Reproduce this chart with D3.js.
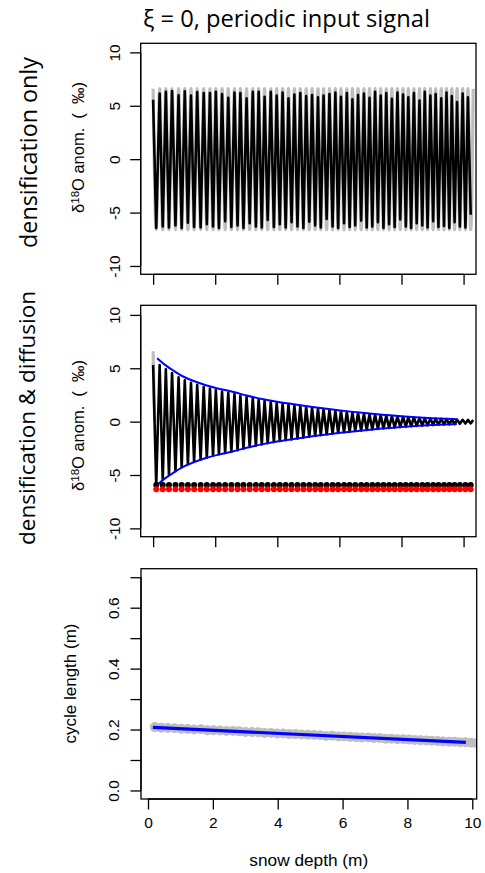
<!DOCTYPE html>
<html><head><meta charset="utf-8">
<script src="https://cdn.jsdelivr.net/npm/d3@7"></script>
<style>
body{margin:0;background:#fff}
svg{display:block}
text{white-space:pre}
</style>
</head><body>
<script>
// ---------- data ----------
const xTicks = [0, 2, 4, 6, 8, 10];
const xTickLabels = ["0", "2", "4", "6", "8", "10"];
const anomTicks = [-10, -5, 0, 5, 10];
const anomTickLabels = ["-10", "-5", "0", "5", "10"];
const cycleTicks = [0, 0.1, 0.2, 0.3, 0.4, 0.5, 0.6, 0.7];
const cycleTickLabels = ["0.0", "", "0.2", "", "0.4", "", "0.6", ""];

// depths (m) of the signal maxima and minima
const peakDepth = [0, 0.21, 0.41, 0.61, 0.82, 1.02, 1.22, 1.42, 1.63, 1.83, 2.02, 2.22, 2.42, 2.62, 2.81, 3.01, 3.21, 3.40, 3.59, 3.79, 3.98, 4.17, 4.36, 4.55, 4.74, 4.93, 5.12, 5.31, 5.49, 5.68, 5.87, 6.05, 6.24, 6.42, 6.60, 6.79, 6.97, 7.15, 7.33, 7.51, 7.69, 7.87, 8.05, 8.22, 8.40, 8.58, 8.75, 8.93, 9.10, 9.28, 9.45, 9.62, 9.79, 9.97, 10.14, 10.31];
const troughDepth = [0.10, 0.31, 0.51, 0.72, 0.92, 1.12, 1.32, 1.53, 1.73, 1.93, 2.12, 2.32, 2.52, 2.72, 2.91, 3.11, 3.31, 3.50, 3.69, 3.89, 4.08, 4.27, 4.46, 4.65, 4.84, 5.03, 5.22, 5.40, 5.59, 5.78, 5.96, 6.15, 6.33, 6.51, 6.70, 6.88, 7.06, 7.24, 7.42, 7.60, 7.78, 7.96, 8.14, 8.31, 8.49, 8.67, 8.84, 9.02, 9.19, 9.37, 9.54, 9.71, 9.88, 10.06, 10.23];

// input signal amplitude (permil)
const inputAmplitude = 6.6;

// densification only: sampled maxima / minima
const densPeak = [5.56, 6.15, 6.32, 6.38, 5.98, 6.35, 5.95, 6.28, 6.2, 6.18, 6.3, 6.1, 5.75, 6.25, 6.2, 5.7, 6.3, 6.32, 5.85, 6.3, 5.95, 6.25, 5.7, 6.05, 6.2, 5.9, 6.0, 5.8, 5.95, 6.1, 6.25, 5.85, 6.2, 5.6, 6.0, 6.15, 5.75, 6.3, 5.95, 6.2, 5.65, 6.25, 6.05, 5.8, 6.2, 5.5, 6.3, 5.95, 6.1, 5.7, 6.25, 5.9, 5.35, 6.15, 5.8];
const densTrough = [-6.45, -6.3, -6.4, -6.2, -6.45, -5.95, -6.35, -6.4, -6.1, -6.3, -6.45, -5.8, -6.35, -6.2, -6.45, -6.0, -6.3, -6.4, -5.7, -6.35, -6.1, -6.4, -5.9, -6.3, -6.45, -5.85, -6.2, -6.4, -5.6, -6.3, -6.45, -6.0, -6.35, -6.2, -5.75, -6.4, -6.3, -5.9, -6.45, -6.1, -6.35, -5.65, -6.3, -6.45, -6.0, -6.2, -6.4, -5.8, -6.35, -6.25, -6.45, -5.9, -6.3, -6.4, -5.2];

// densification & diffusion: maxima / minima
const diffPeak = [5.3, 5.3, 4.9, 4.55, 4.15, 3.88, 3.65, 3.45, 3.25, 3.1, 2.95, 2.83, 2.7, 2.6, 2.45, 2.3, 2.18, 2.06, 1.95, 1.85, 1.76, 1.68, 1.6, 1.54, 1.46, 1.38, 1.3, 1.23, 1.16, 1.1, 1.04, 0.97, 0.91, 0.86, 0.81, 0.75, 0.7, 0.66, 0.62, 0.58, 0.53, 0.49, 0.46, 0.42, 0.39, 0.35, 0.33, 0.3, 0.28, 0.26, 0.24, 0.21, 0.19, 0.17, 0.16, 0.15];
const diffTrough = [-5.93, -5.45, -5.0, -4.65, -4.28, -3.98, -3.75, -3.55, -3.37, -3.2, -3.05, -2.93, -2.82, -2.68, -2.52, -2.37, -2.25, -2.13, -2.01, -1.91, -1.82, -1.74, -1.66, -1.59, -1.5, -1.42, -1.34, -1.27, -1.2, -1.13, -1.07, -1.0, -0.94, -0.88, -0.83, -0.78, -0.73, -0.69, -0.64, -0.6, -0.55, -0.51, -0.47, -0.43, -0.4, -0.37, -0.35, -0.32, -0.29, -0.27, -0.25, -0.23, -0.2, -0.18, -0.16];
const diffInputDepth = [0, 0.05];
const diffInputValue = [6.6, 0];

// theoretical amplitude envelope
const envDepth = [0.13, 0.4, 0.7, 0.95, 1.3, 1.7, 2.1, 2.56, 3.0, 3.5, 4.0, 4.71, 5.3, 6.0, 6.86, 7.5, 8.2, 9.0, 9.78];
const envUpper = [5.94, 5.25, 4.7, 4.22, 3.8, 3.4, 3.08, 2.81, 2.45, 2.12, 1.85, 1.56, 1.3, 1.05, 0.78, 0.62, 0.45, 0.32, 0.22];
const envLower = [-5.93, -5.25, -4.7, -4.22, -3.8, -3.4, -3.08, -2.81, -2.45, -2.12, -1.85, -1.56, -1.3, -1.05, -0.78, -0.62, -0.45, -0.32, -0.22];

// minima markers
const minMarkerDiff = -5.93;
const minMarkerInput = -6.34;

// cycle length vs depth
const cycleDepth = [0.21, 0.41, 0.61, 0.82, 1.02, 1.22, 1.42, 1.63, 1.83, 2.02, 2.22, 2.42, 2.62, 2.81, 3.01, 3.21, 3.40, 3.59, 3.79, 3.98, 4.17, 4.36, 4.55, 4.74, 4.93, 5.12, 5.31, 5.49, 5.68, 5.87, 6.05, 6.24, 6.42, 6.60, 6.79, 6.97, 7.15, 7.33, 7.51, 7.69, 7.87, 8.05, 8.22, 8.40, 8.58, 8.75, 8.93, 9.10, 9.28, 9.45, 9.62, 9.79, 9.97, 10.14];
const cycleLength = [0.208, 0.206, 0.205, 0.204, 0.203, 0.202, 0.200, 0.201, 0.198, 0.198, 0.197, 0.195, 0.195, 0.194, 0.192, 0.192, 0.191, 0.189, 0.189, 0.187, 0.187, 0.185, 0.185, 0.184, 0.183, 0.182, 0.181, 0.179, 0.180, 0.177, 0.177, 0.176, 0.175, 0.174, 0.174, 0.172, 0.172, 0.170, 0.170, 0.168, 0.168, 0.167, 0.166, 0.165, 0.164, 0.163, 0.162, 0.161, 0.160, 0.160, 0.158, 0.158, 0.157, 0.155];
const fitDepth = [0.15, 9.8];
const fitLength = [0.207, 0.158];

// ---------- layout ----------
const W = 485, H = 873;
const P1 = {l: 140.7, r: 476, t: 43.3, b: 274.3};
const P2 = {l: 140.7, r: 476, t: 305.3, b: 536.7};
const P3 = {l: 141, r: 476.7, t: 568.7, b: 799};
const TICK = 10.5;
const sansR = "'Liberation Sans', Arial, sans-serif";
const sansH = "'Open Sans', 'Noto Sans', sans-serif";

const svg = d3.select("body").append("svg").attr("width", W).attr("height", H);

const x12 = d3.scaleLinear().domain([-0.4, 10.4]).range([P1.l, P1.r]);
const y1 = d3.scaleLinear().domain([-10.78, 10.85]).range([P1.b, P1.t]);
const y2 = d3.scaleLinear().domain([-10.78, 10.9]).range([P2.b, P2.t]);
const x3 = d3.scaleLinear().domain([-0.216, 10.136]).range([P3.l, P3.r]);
const y3 = d3.scaleLinear().domain([-0.028, 0.728]).range([P3.b, P3.t]);

function clip(id, p) {
  svg.append("clipPath").attr("id", id).append("rect")
    .attr("x", p.l).attr("y", p.t).attr("width", p.r - p.l).attr("height", p.b - p.t);
}
clip("c1", P1); clip("c2", P2); clip("c3", P3);

// alternate maxima and minima into one ordered list of points
function zig(peaksX, peaksY, troX, troY, nPeaks, nTro) {
  const pts = [];
  for (let i = 0; i < Math.max(nPeaks, nTro); i++) {
    if (i < nPeaks) pts.push([peaksX[i], peaksY[i]]);
    if (i < nTro) pts.push([troX[i], troY[i]]);
  }
  return pts;
}

// ----- panel 1: densification only -----
const g1 = svg.append("g").attr("clip-path", "url(#c1)");
const inputPts = zig(peakDepth, peakDepth.map(() => inputAmplitude), troughDepth, troughDepth.map(() => -inputAmplitude), peakDepth.length, troughDepth.length);
g1.append("path")
  .attr("d", d3.line().x(d => x12(d[0])).y(d => y1(d[1])).curve(d3.curveMonotoneX)(inputPts))
  .attr("fill", "none").attr("stroke", "#bebebe").attr("stroke-width", 3.2).attr("stroke-linejoin", "round");
const densPts = zig(peakDepth, densPeak, troughDepth, densTrough, densPeak.length, densTrough.length);
g1.append("path")
  .attr("d", d3.line().x(d => x12(d[0])).y(d => y1(d[1]))(densPts))
  .attr("fill", "none").attr("stroke", "#000").attr("stroke-width", 2.6).attr("stroke-linejoin", "round");

// ----- panel 2: densification & diffusion -----
const g2 = svg.append("g").attr("clip-path", "url(#c2)");
g2.append("path")
  .attr("d", d3.line().x(d => x12(d[0])).y(d => y2(d[1]))(diffInputDepth.map((d, i) => [d, diffInputValue[i]])))
  .attr("fill", "none").attr("stroke", "#bebebe").attr("stroke-width", 3.2);
const diffPts = zig(peakDepth, diffPeak, troughDepth, diffTrough, diffPeak.length, diffTrough.length);
g2.append("path")
  .attr("d", d3.line().x(d => x12(d[0])).y(d => y2(d[1]))(diffPts))
  .attr("fill", "none").attr("stroke", "#000").attr("stroke-width", 2.6).attr("stroke-linejoin", "round");
const envLine = d3.line().x(d => x12(d[0])).y(d => y2(d[1])).curve(d3.curveBasis);
[envUpper, envLower].forEach(arr => {
  g2.append("path").attr("d", envLine(envDepth.map((d, i) => [d, arr[i]])))
    .attr("fill", "none").attr("stroke", "#0000ff").attr("stroke-width", 2);
});
g2.selectAll("circle.mk").data(troughDepth).join("circle").attr("class", "mk")
  .attr("cx", d => x12(d)).attr("cy", y2(minMarkerDiff)).attr("r", 3).attr("fill", "#000");
g2.selectAll("circle.mr").data(troughDepth).join("circle").attr("class", "mr")
  .attr("cx", d => x12(d)).attr("cy", y2(minMarkerInput)).attr("r", 3).attr("fill", "#ff0000");

// ----- panel 3: cycle length -----
const g3 = svg.append("g").attr("clip-path", "url(#c3)");
g3.selectAll("circle").data(cycleDepth).join("circle")
  .attr("cx", d => x3(d)).attr("cy", (d, i) => y3(cycleLength[i])).attr("r", 5)
  .attr("fill", "#bebebe");
g3.append("path")
  .attr("d", d3.line().x(d => x3(d[0])).y(d => y3(d[1]))(fitDepth.map((d, i) => [d, fitLength[i]])))
  .attr("stroke", "#0000ff").attr("stroke-width", 3.2).attr("fill", "none");

// ----- frames and axes -----
[P1, P2, P3].forEach(p => {
  svg.append("rect").attr("x", p.l).attr("y", p.t).attr("width", p.r - p.l).attr("height", p.b - p.t)
    .attr("fill", "none").attr("stroke", "#000").attr("stroke-width", 1.3);
});

function yAxis(scale, p, ticks, labels, off) {
  const ax = d3.axisLeft(scale).tickValues(ticks).tickSize(TICK).tickSizeOuter(0)
    .tickFormat((d, i) => labels[i]);
  const g = svg.append("g").attr("transform", `translate(${p.l},0)`).call(ax);
  g.select(".domain").attr("d", `M0,${scale(ticks[0])}V${scale(ticks[ticks.length - 1])}`)
    .attr("stroke-width", 1.3);
  g.selectAll(".tick line").attr("stroke-width", 1.3);
  g.selectAll(".tick text").attr("transform", "rotate(-90)").attr("x", 0).attr("y", -off)
    .attr("dy", 0).attr("text-anchor", "middle")
    .attr("font-family", sansR).attr("font-size", 15.5).attr("fill", "#000");
  return g;
}
function xAxis(scale, p, labels) {
  const ax = d3.axisBottom(scale).tickValues(xTicks).tickSize(TICK).tickSizeOuter(0)
    .tickFormat((d, i) => labels ? labels[i] : "");
  const g = svg.append("g").attr("transform", `translate(0,${p.b})`).call(ax);
  g.select(".domain").attr("d", `M${scale(xTicks[0])},0H${scale(xTicks[xTicks.length - 1])}`)
    .attr("stroke-width", 1.3);
  g.selectAll(".tick line").attr("stroke-width", 1.3);
  g.selectAll(".tick text").attr("y", 29).attr("dy", 0)
    .attr("font-family", sansR).attr("font-size", 15.5).attr("fill", "#000");
  return g;
}
yAxis(y1, P1, anomTicks, anomTickLabels, 20.5);
yAxis(y2, P2, anomTicks, anomTickLabels, 20.5);
yAxis(y3, P3, cycleTicks, cycleTickLabels, 22.5);
xAxis(x12, P1, null);
xAxis(x12, P2, null);
xAxis(x3, P3, xTickLabels);

// ----- text -----
function fit(sel, target) {
  const s0 = +sel.attr("font-size");
  const L = sel.node().getComputedTextLength();
  if (L > 0) sel.attr("font-size", s0 * target / L);
  return sel;
}
function vtext(x, y) {
  return svg.append("text").attr("transform", `translate(${x},${y}) rotate(-90)`)
    .attr("text-anchor", "middle").attr("fill", "#000");
}

fit(svg.append("text").attr("x", 286.5).attr("y", 27).attr("text-anchor", "middle")
  .attr("font-family", sansH).attr("font-size", 22).text("ξ = 0, periodic input signal"), 287);

fit(vtext(36.5, 152.5).attr("font-family", sansH).attr("font-size", 22).text("densification only"), 191);
fit(vtext(35, 418).attr("font-family", sansH).attr("font-size", 22).text("densification & diffusion"), 254);

function deltaLabel(x, y) {
  const t = vtext(x, y).attr("font-family", sansR).attr("font-size", 15);
  t.append("tspan").text("δ");
  t.append("tspan").attr("font-size", "0.7em").attr("dy", "-0.45em").text("18");
  t.append("tspan").attr("dy", "0.315em").text("O anom.  (  ‰)");
  fit(t, 131);
}
deltaLabel(84, 147.5);
deltaLabel(84, 425.5);

fit(vtext(76, 683.5).attr("font-family", sansR).attr("font-size", 15).text("cycle length (m)"), 120);
fit(svg.append("text").attr("x", 308.8).attr("y", 866).attr("text-anchor", "middle")
  .attr("font-family", sansR).attr("font-size", 15).text("snow depth (m)"), 119);
</script>
</body></html>
